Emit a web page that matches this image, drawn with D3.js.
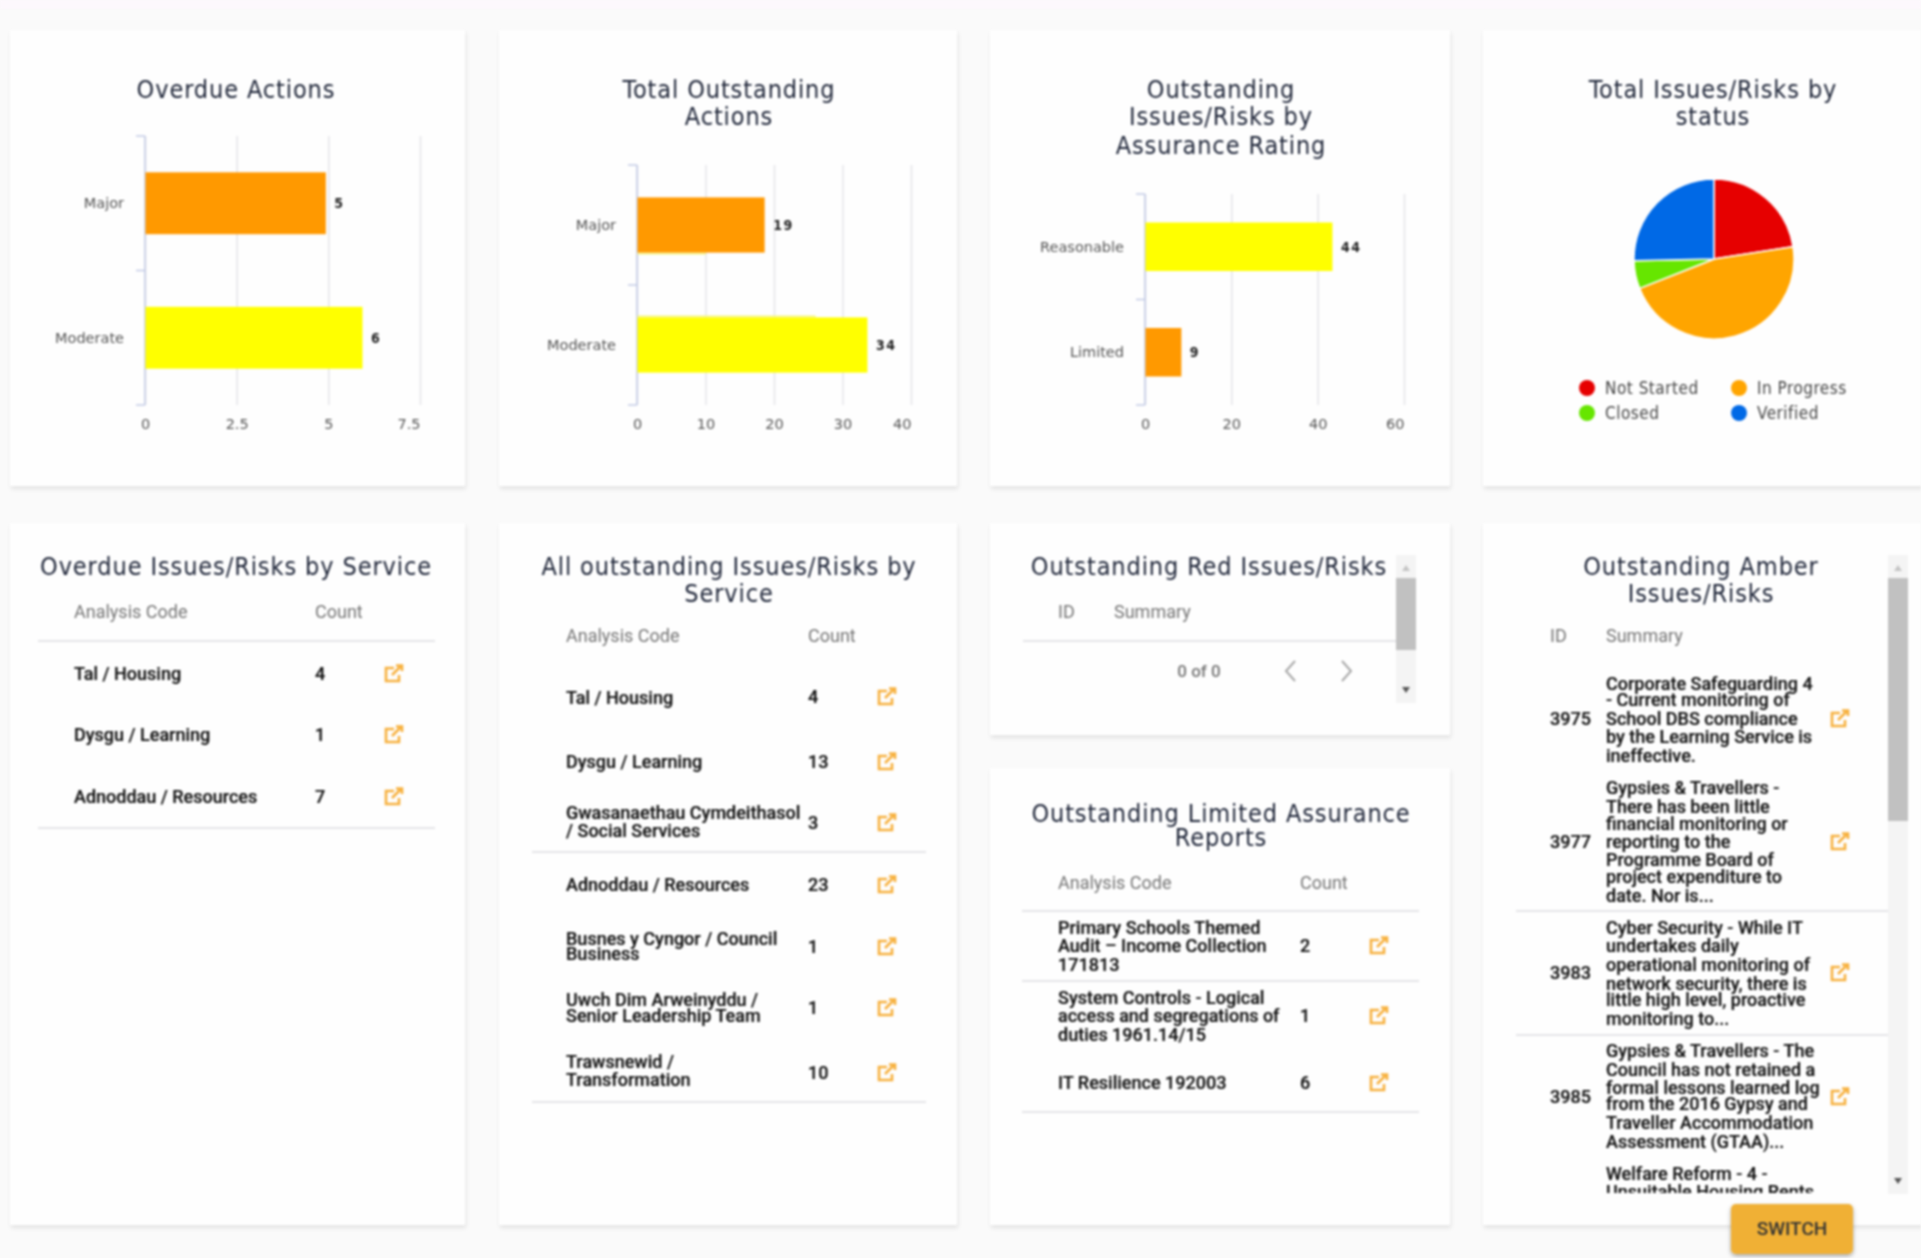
<!DOCTYPE html>
<html>
<head>
<meta charset="utf-8">
<script src="https://cdnjs.cloudflare.com/ajax/libs/d3/7.8.5/d3.min.js"></script>
<style>
  html, body { margin: 0; padding: 0; background: #fafafa; overflow: hidden; }
  svg { display: block; filter: blur(0.9px); }
  .title { font-family: "DejaVu Sans Condensed", "DejaVu Sans", sans-serif; font-size: 25px; fill: #20273a; text-anchor: middle; letter-spacing: .9px; }
  .axis-label { font-family: "DejaVu Sans", sans-serif; font-size: 14.5px; fill: #555; }
  .value-label { font-family: "DejaVu Sans Condensed", "DejaVu Sans", sans-serif; font-size: 14px; font-weight: bold; fill: #222; letter-spacing: 1.5px; }
  .legend-label { font-family: "DejaVu Sans Condensed", "DejaVu Sans", sans-serif; font-size: 17px; fill: #444; letter-spacing: .5px; }
  .th { font-family: Roboto, sans-serif; font-size: 18px; fill: #757575; }
  .td { font-family: Roboto, sans-serif; font-size: 18px; font-weight: 500; fill: #111; stroke: #111; stroke-width: .2px; }
</style>
</head>
<body>
<div id="chart"></div>
<script>
// Bar chart values
const overdueCats = ['Major', 'Moderate'];
const overdueVals = [5, 6];
const overdueTicks = [0, 2.5, 5, 7.5];

const outstandingCats = ['Major', 'Moderate'];
const outstandingVals = [19, 34];
const outstandingTicks = [0, 10, 20, 30, 40];
// faint leftovers of the previous frame of the bar animation
const outstandingGhostVals = [10, 26];

const ratingCats = ['Reasonable', 'Limited'];
const ratingVals = [44, 9];
const ratingTicks = [0, 20, 40, 60];

// Pie values
const statusNames = ['Not Started', 'In Progress', 'Closed', 'Verified'];
const statusVals = [16, 33, 4, 18];

// Table contents
const overdueServices = [['Tal / Housing'], ['Dysgu / Learning'], ['Adnoddau / Resources']];
const overdueCounts = [4, 1, 7];

const allServices = [
  ['Tal / Housing'],
  ['Dysgu / Learning'],
  ['Gwasanaethau Cymdeithasol', '/ Social Services'],
  ['Adnoddau / Resources'],
  ['Busnes y Cyngor / Council', 'Business'],
  ['Uwch Dim Arweinyddu /', 'Senior Leadership Team'],
  ['Trawsnewid /', 'Transformation']
];
const allCounts = [4, 13, 3, 23, 1, 1, 10];

const limitedReports = [
  ['Primary Schools Themed', 'Audit \u2013 Income Collection', '171813'],
  ['System Controls - Logical', 'access and segregations of', 'duties 1961.14/15'],
  ['IT Resilience 192003']
];
const limitedCounts = [2, 1, 6];

const amberIds = [3975, 3977, 3983, 3985];
const amberSummaries = [
  ['Corporate Safeguarding 4', '- Current monitoring of', 'School DBS compliance', 'by the Learning Service is', 'ineffective.'],
  ['Gypsies & Travellers -', 'There has been little', 'financial monitoring or', 'reporting to the', 'Programme Board of', 'project expenditure to', 'date. Nor is...'],
  ['Cyber Security - While IT', 'undertakes daily', 'operational monitoring of', 'network security, there is', 'little high level, proactive', 'monitoring to...'],
  ['Gypsies & Travellers - The', 'Council has not retained a', 'formal lessons learned log', 'from the 2016 Gypsy and', 'Traveller Accommodation', 'Assessment (GTAA)...']
];
const amberCutOff = ['Welfare Reform - 4 -', 'Unsuitable Housing Rents'];

// Colours
const barColors = { Major: '#ff9900', Moderate: '#ffff00', Reasonable: '#ffff00', Limited: '#ff9900' };
const statusColors = ['#e60000', '#ffa500', '#66e600', '#0069e6'];
const linkColor = '#f7b13f';

const width = 1921, height = 1258;

const svg = d3.select('#chart').append('svg')
  .attr('width', width)
  .attr('height', height);

const defs = svg.append('defs');
const shadow = defs.append('filter').attr('id', 'card-shadow').attr('x', '-5%').attr('y', '-5%').attr('width', '110%').attr('height', '110%');
shadow.append('feDropShadow').attr('dx', 1).attr('dy', 3).attr('stdDeviation', 2).attr('flood-color', '#000').attr('flood-opacity', .09);
const btnShadow = defs.append('filter').attr('id', 'btn-shadow').attr('x', '-10%').attr('y', '-10%').attr('width', '120%').attr('height', '130%');
btnShadow.append('feDropShadow').attr('dx', 0).attr('dy', 2).attr('stdDeviation', 2).attr('flood-color', '#000').attr('flood-opacity', .35);

svg.append('rect').attr('width', width).attr('height', 9).attr('fill', '#fdf8fd');

function card(x, y, w, h) {
  svg.append('rect')
    .attr('x', x).attr('y', y).attr('width', w).attr('height', h)
    .attr('fill', '#fefefe')
    .attr('filter', 'url(#card-shadow)');
}

function title(cx, lines, ys) {
  lines.forEach((line, i) => {
    svg.append('text').attr('class', 'title').attr('x', cx).attr('y', ys[i]).attr('dy', '.35em').text(line);
  });
}

// Horizontal bar chart, Highcharts look
function barChart(cats, vals, ticks, box, ghostVals) {
  const x = d3.scaleLinear().domain([0, ticks[ticks.length - 1]]).range([box.left, box.right]);
  const y = d3.scaleBand().domain(cats).range([box.top, box.bottom]);
  const g = svg.append('g');

  const xAxis = d3.axisBottom(x).tickValues(ticks).tickSize(box.bottom - box.top).tickFormat(d3.format('~g'));
  const ax = g.append('g').attr('transform', `translate(0,${box.top})`).call(xAxis);
  ax.select('.domain').remove();
  ax.selectAll('line').attr('stroke', '#e4e4e8').attr('stroke-width', 1.5);
  ax.selectAll('text')
    .attr('class', 'axis-label')
    .attr('y', box.bottom - box.top + 19)
    .attr('dy', '.35em')
    .attr('text-anchor', (d, i) => i === ticks.length - 1 ? 'end' : 'middle');

  // y axis line with ticks on the category boundaries
  const edges = cats.map(c => y(c)).concat([box.bottom]);
  g.append('line')
    .attr('x1', box.left).attr('x2', box.left).attr('y1', box.top).attr('y2', box.bottom)
    .attr('stroke', '#c3cbe6').attr('stroke-width', 1.5);
  g.selectAll('.ytick').data(edges).enter().append('line')
    .attr('x1', box.left - 9).attr('x2', box.left)
    .attr('y1', d => d).attr('y2', d => d)
    .attr('stroke', '#c3cbe6').attr('stroke-width', 1.5);

  const barH = y.bandwidth() * 0.46;
  const barTop = d => y(d) + (y.bandwidth() - barH) / 2;

  if (ghostVals) {
    g.selectAll('.ghost').data(cats).enter().append('rect')
      .attr('x', box.left + .5)
      .attr('y', (d, i) => i === 0 ? barTop(d) + barH : barTop(d) - 2)
      .attr('width', (d, i) => x(ghostVals[i]) - box.left)
      .attr('height', 2)
      .attr('fill', '#f6f68a');
  }

  g.selectAll('.bar').data(cats).enter().append('rect')
    .attr('x', box.left + .5)
    .attr('y', barTop)
    .attr('width', (d, i) => x(vals[i]) - box.left - 3)
    .attr('height', barH)
    .attr('fill', d => barColors[d]);

  g.selectAll('.cat').data(cats).enter().append('text')
    .attr('class', 'axis-label')
    .attr('x', box.left - 21)
    .attr('y', d => y(d) + y.bandwidth() / 2)
    .attr('dy', '.35em')
    .attr('text-anchor', 'end')
    .text(d => d);

  g.selectAll('.val').data(vals).enter().append('text')
    .attr('class', 'value-label')
    .attr('x', d => x(d) + 6)
    .attr('y', (d, i) => y(cats[i]) + y.bandwidth() / 2)
    .attr('dy', '.35em')
    .text(d => d);
}

function linkIcon(cx, cy) {
  const g = svg.append('g').attr('transform', `translate(${cx},${cy})`)
    .attr('fill', 'none').attr('stroke', linkColor).attr('stroke-width', 2.6);
  g.append('path').attr('d', 'M0,-6 H-8 V7 H5 V1');
  g.append('path').attr('d', 'M-2,1 L7,-8 M2,-8.5 H8 V-3');
}

function multiline(parent, lines, x, ys) {
  lines.forEach((line, i) => {
    parent.append('text').attr('class', 'td').attr('x', x).attr('y', ys[i]).attr('dy', '.35em').text(line);
  });
}

function headers(labels, xs, y) {
  labels.forEach((label, i) => {
    svg.append('text').attr('class', 'th').attr('x', xs[i]).attr('y', y).attr('dy', '.35em').text(label);
  });
}

function rule(x1, x2, y) {
  svg.append('line').attr('x1', x1).attr('x2', x2).attr('y1', y).attr('y2', y)
    .attr('stroke', '#dcdce0').attr('stroke-width', 1.5);
}

function scrollbar(x, top, bottom, thumbTop, thumbBottom) {
  svg.append('rect').attr('x', x).attr('y', top).attr('width', 20).attr('height', bottom - top).attr('fill', '#f4f4f4');
  svg.append('rect').attr('x', x).attr('y', thumbTop).attr('width', 20).attr('height', thumbBottom - thumbTop).attr('fill', '#c1c1c1');
  svg.append('path').attr('d', `M${x + 6},${top + 16} h8 l-4,-6 z`).attr('fill', '#c4c4c4');
  svg.append('path').attr('d', `M${x + 6},${bottom - 16} h8 l-4,6 z`).attr('fill', '#555');
}

// Cards, top row
card(10, 30, 455, 456);
card(499, 30, 458, 456);
card(990, 30, 460, 456);
card(1483, 30, 445, 456);

// Cards, bottom row
card(10, 523, 455, 702);
card(499, 523, 458, 702);
card(990, 523, 460, 212);
card(990, 768, 460, 457);
card(1483, 523, 445, 702);

// Top row charts
title(236, ['Overdue Actions'], [89]);
barChart(overdueCats, overdueVals, overdueTicks, { left: 145, right: 420, top: 136, bottom: 405 });

title(729, ['Total Outstanding', 'Actions'], [89, 116]);
barChart(outstandingCats, outstandingVals, outstandingTicks, { left: 637, right: 911, top: 165, bottom: 405 }, outstandingGhostVals);

title(1221, ['Outstanding', 'Issues/Risks by', 'Assurance Rating'], [89, 116, 145]);
barChart(ratingCats, ratingVals, ratingTicks, { left: 1145, right: 1404, top: 194, bottom: 405 });

// Pie
title(1713, ['Total Issues/Risks by', 'status'], [89, 116]);
const pie = d3.pie().sort(null)(statusVals);
const arc = d3.arc().innerRadius(0).outerRadius(80);
svg.append('g').attr('transform', 'translate(1714,259)')
  .selectAll('path').data(pie).enter().append('path')
  .attr('d', arc)
  .attr('fill', (d, i) => statusColors[i])
  .attr('stroke', '#fff').attr('stroke-width', 1.5);

const legendX = d3.scaleOrdinal().domain([0, 1]).range([1587, 1739]);
const legendY = d3.scaleOrdinal().domain([0, 1]).range([388, 413]);
const legend = svg.append('g').selectAll('g').data(statusNames).enter().append('g')
  .attr('transform', (d, i) => `translate(${legendX(i % 2)},${legendY(Math.floor(i / 2))})`);
legend.append('circle').attr('r', 8).attr('fill', (d, i) => statusColors[i]);
legend.append('text').attr('class', 'legend-label').attr('x', 18).attr('dy', '.35em').text(d => d);

// Overdue by service table
title(236, ['Overdue Issues/Risks by Service'], [566]);
headers(['Analysis Code', 'Count'], [74, 315], 612);
rule(38, 435, 641);
const overdueRowY = [674, 735, 797];
overdueServices.forEach((lines, i) => {
  multiline(svg, lines, 74, [overdueRowY[i]]);
  multiline(svg, [overdueCounts[i]], 315, [overdueRowY[i]]);
  linkIcon(394, overdueRowY[i]);
});
rule(38, 435, 828);

// All outstanding table
title(729, ['All outstanding Issues/Risks by', 'Service'], [566, 593]);
headers(['Analysis Code', 'Count'], [566, 808], 636);
const allRowY = [697, 762, 823, 885, 947, 1008, 1073];
const allLineY = [[698], [762], [813, 831], [885], [939, 954], [1000, 1016], [1062, 1080]];
allServices.forEach((lines, i) => {
  multiline(svg, lines, 566, allLineY[i]);
  multiline(svg, [allCounts[i]], 808, [allRowY[i]]);
  linkIcon(887, allRowY[i]);
});
rule(532, 926, 852);
rule(532, 926, 1102);

// Red issues, empty table
title(1209, ['Outstanding Red Issues/Risks'], [566]);
headers(['ID', 'Summary'], [1058, 1114], 612);
rule(1023, 1396, 641);
svg.append('text').attr('class', 'th').attr('x', 1199).attr('y', 671).attr('dy', '.35em')
  .attr('text-anchor', 'middle').style('font-size', '17px').style('font-weight', 500).text('0 of 0');
svg.append('path').attr('d', 'M1295,661 l-9,10 l9,10 M1342,661 l9,10 l-9,10')
  .attr('fill', 'none').attr('stroke', '#a8a8a8').attr('stroke-width', 2);
scrollbar(1396, 555, 703, 578, 650);

// Limited assurance table
title(1221, ['Outstanding Limited Assurance', 'Reports'], [813, 837]);
headers(['Analysis Code', 'Count'], [1058, 1300], 883);
rule(1022, 1419, 911);
const limitedRowY = [946, 1016, 1083];
const limitedLineY = [[928, 946, 965], [998, 1016, 1035], [1083]];
limitedReports.forEach((lines, i) => {
  multiline(svg, lines, 1058, limitedLineY[i]);
  multiline(svg, [limitedCounts[i]], 1300, [limitedRowY[i]]);
  linkIcon(1379, limitedRowY[i]);
});
rule(1022, 1419, 981);
rule(1022, 1419, 1112);

// Amber issues, scrolled list cut off at the bottom
title(1701, ['Outstanding Amber', 'Issues/Risks'], [566, 593]);
headers(['ID', 'Summary'], [1550, 1606], 636);
defs.append('clipPath').attr('id', 'amber-clip').append('rect')
  .attr('x', 1500).attr('y', 650).attr('width', 390).attr('height', 543);
const amberBody = svg.append('g').attr('clip-path', 'url(#amber-clip)');
const amberRowY = [719, 842, 973, 1097];
const amberLineY = [
  [684, 700, 719, 737, 756],
  [788, 807, 824, 842, 860, 877, 896],
  [928, 946, 965, 984, 1000, 1019],
  [1051, 1070, 1088, 1104, 1123, 1142]
];
amberSummaries.forEach((lines, i) => {
  multiline(amberBody, lines, 1606, amberLineY[i]);
  multiline(amberBody, [amberIds[i]], 1550, [amberRowY[i]]);
  linkIcon(1840, amberRowY[i]);
});
multiline(amberBody, amberCutOff, 1606, [1174, 1192]);
rule(1516, 1888, 911);
rule(1516, 1888, 1035);
scrollbar(1888, 555, 1194, 578, 821);

// Switch button
svg.append('rect').attr('x', 1731).attr('y', 1204).attr('width', 122).attr('height', 50).attr('rx', 5)
  .attr('fill', '#f0b034').attr('filter', 'url(#btn-shadow)');
svg.append('text').attr('x', 1792).attr('y', 1228).attr('dy', '.35em').attr('text-anchor', 'middle')
  .attr('font-family', 'Roboto, sans-serif').attr('font-size', 19).attr('font-weight', 500).attr('fill', '#333')
  .text('SWITCH');
</script>
</body>
</html>
